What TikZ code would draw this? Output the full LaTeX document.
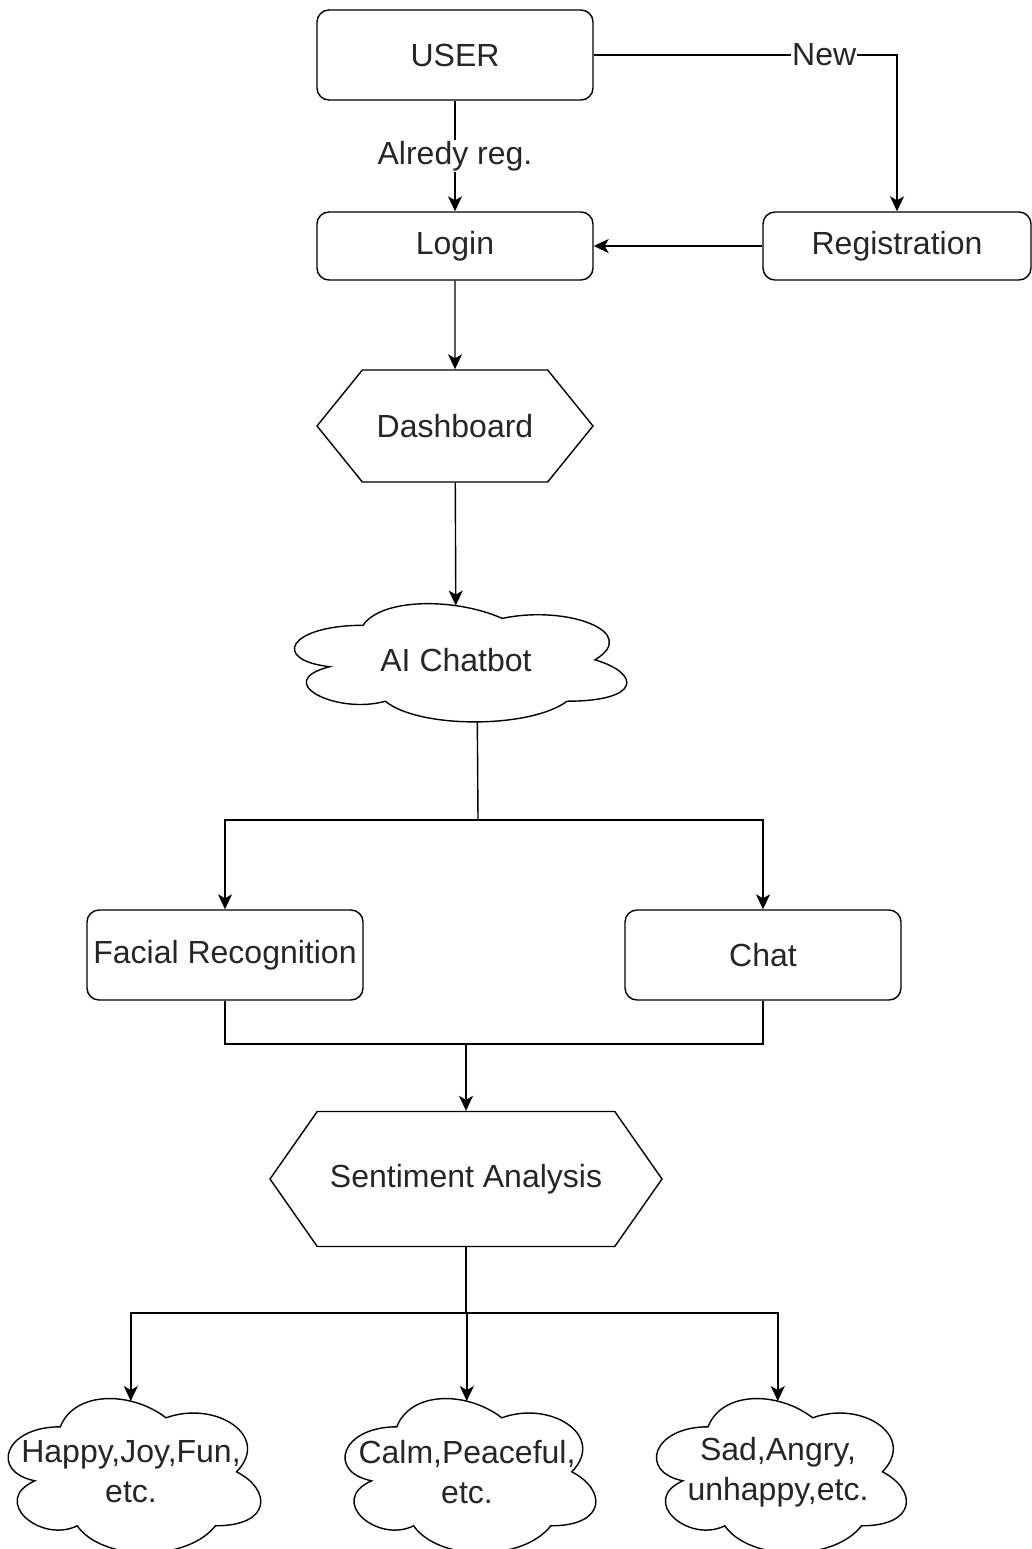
\documentclass[tikz,border=0pt]{standalone}
\usepackage{fontspec}
\setmainfont{Liberation Sans}
\usetikzlibrary{shapes.symbols,arrows.meta,positioning}

\tikzset{
  base/.style={draw, line width=1.4pt, font=\fontsize{32}{40}\selectfont, text=black!85, inner sep=0pt},
  box/.style={base, rounded corners=12pt, minimum width=276pt},
  hexa/.style={base, shape=signal, signal to=west and east, signal pointer angle=102},
  puff/.style={font=\fontsize{32}{40}\selectfont, text=black!85, inner sep=0pt, align=center},
  arr/.style={-{Stealth[length=15pt,width=14pt,inset=4pt]}, line width=1.4pt},
  line/.style={line width=1.4pt},
  lbl/.style={fill=white, font=\fontsize{32}{40}\selectfont, text=black!85, inner sep=1pt},
}

% cloud outline drawn inside the box of node #1 (width #4, height #5)
\newcommand{\cloudbox}[6]{%
  \node[puff, minimum width=#4pt, minimum height=#5pt] (#1) at (#2,#3) {#6};
  \begin{scope}[shift={(#1.north west)}, x=#4pt, y=-#5pt]
    \draw[line] (0.25,0.25) .. controls (0.05,0.25) and (0,0.5) .. (0.16,0.55)
      .. controls (0,0.66) and (0.18,0.9) .. (0.31,0.8)
      .. controls (0.4,1) and (0.7,1) .. (0.8,0.8)
      .. controls (1,0.8) and (1,0.6) .. (0.875,0.5)
      .. controls (1,0.3) and (0.8,0.1) .. (0.625,0.2)
      .. controls (0.5,0.05) and (0.3,0.05) .. cycle;
    \coordinate (#1-top) at (0.5,0.107);
    \coordinate (#1-bot) at (0.558,0.95);
  \end{scope}
}

\begin{document}
\begin{tikzpicture}[x=1pt,y=-1pt]
  \useasboundingbox (0,0) rectangle (1032,1549);

  % top part
  \node[box, minimum height=90pt] (user) at (455,55) {USER};
  \node[box, minimum height=68pt] (login) at (455,246) {Login};
  \node[box, minimum height=68pt, minimum width=268pt] (reg) at (897,246) {Registration};
  \node[hexa, minimum width=276pt, minimum height=112pt] (dash) at (455,426) {Dashboard};
  \cloudbox{bot}{456}{660}{371}{138}{AI Chatbot}

  % middle part
  \node[box, minimum height=90pt] (face) at (225,955) {Facial Recognition};
  \node[box, minimum height=90pt] (chat) at (763,955) {Chat};
  \node[hexa, signal pointer angle=110, minimum width=392pt, minimum height=135pt] (senti) at (466,1179) {Sentiment Analysis};

  % emotions
  \cloudbox{happy}{131}{1472}{282}{180}{Happy,Joy,Fun,\\etc.}
  \cloudbox{calm}{467}{1472}{280}{180}{Calm,Peaceful,\\etc.}
  \cloudbox{sad}{778}{1472}{279}{180}{Sad,Angry,\\unhappy,etc.}

  \coordinate (split) at (478,820);
  \coordinate (merge) at (466,1044);
  \coordinate (fan) at (466,1313);

  % connectors
  \draw[arr] (user.east) -| node[pos=0.38, lbl] {New} (reg.north);
  \draw[arr] (user) -- node[lbl] {Alredy reg.} (login);
  \draw[arr] (reg) -- (login);
  \draw[arr] (login) -- (dash);
  \draw[arr] (dash) -- (bot-top);
  \draw[line] (bot-bot) -- (split);
  \draw[arr] (split) -| (face.north);
  \draw[arr] (split) -| (chat.north);
  \draw[line] (face.south) |- (merge);
  \draw[line] (chat.south) |- (merge);
  \draw[arr] (merge) -- (senti.north);
  \draw[line] (senti.south) -- (fan);
  \draw[arr] (fan) -| (happy-top);
  \draw[arr] (fan) -| (calm-top);
  \draw[arr] (fan) -| (sad-top);
\end{tikzpicture}
\end{document}
